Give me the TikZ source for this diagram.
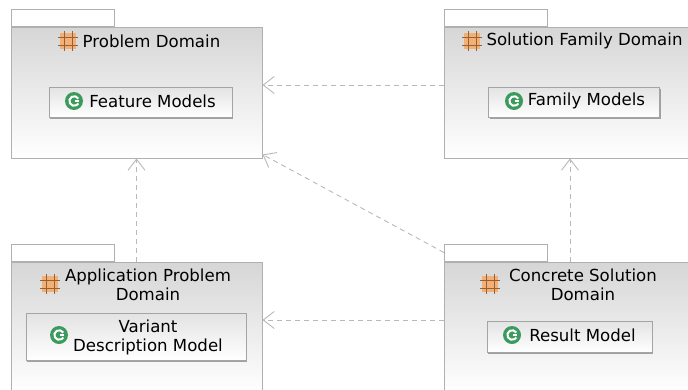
\documentclass[tikz,border=0pt]{standalone}
\usepackage{fontspec}
\setmainfont{DejaVu Sans}
\usetikzlibrary{arrows.meta,shadows}
\definecolor{pkgline}{HTML}{B0B0B0}
\definecolor{pkgtop}{HTML}{D6D6D6}
\definecolor{classline}{HTML}{A4A4A4}
\definecolor{depline}{HTML}{B8B8B8}
\definecolor{iconorange}{HTML}{F0B078}
\definecolor{iconbrown}{HTML}{9A6030}
\definecolor{icongreen}{HTML}{3C9A5C}
\tikzset{package/.style={draw=pkgline,line width=1pt,top color=pkgtop,bottom color=white,minimum width=251pt,minimum height=131pt,inner sep=0pt}}
\tikzset{packagetab/.style={draw=pkgline,line width=0.9pt,fill=white,anchor=south west,minimum width=103pt,minimum height=17pt,inner sep=0pt}}
\tikzset{classbox/.style={draw=classline,line width=0.9pt,top color=black!11,bottom color=white,drop shadow={shadow xshift=1.4pt,shadow yshift=-1.8pt,fill=black!45,opacity=0.8},inner sep=0pt}}
\tikzset{title/.style={font=\fontsize{16.6}{19}\selectfont,align=center,inner sep=0pt,text=black}}
\tikzset{dep/.style={draw=depline,line width=0.9pt,dash pattern=on 5pt off 4pt,-{Straight Barb[length=11pt,width=17pt,line width=0.9pt]}}}
\tikzset{pkgicon/.pic={
  \fill [iconorange] (-8,-8) rectangle (8,8);
  \draw [iconbrown,line width=0.8pt] (-10,-4) -- (10,-4) (-10,4) -- (10,4) (-4,-10) -- (-4,10) (4,-10) -- (4,10);
}}
\tikzset{classicon/.pic={
  \fill [icongreen] (0,0) circle (9);
  \draw [white,line width=2pt] (4.3,-2.4) arc (-30:-330:4.8);
  \draw [white,line width=1.6pt] (0.5,0) -- (5.2,0);
}}
\begin{document}
\begin{tikzpicture}[x=1pt,y=-1pt]
      \useasboundingbox (0, 0) rectangle (688, 389);
      \clip (0, 0) rectangle (688, 389);
      \node [package] (problem) at (136.5, 92.5) {};
      \node [package] (solution) at (570, 92.5) {};
      \node [package] (application) at (136.5, 327.5) {};
      \node [package] (concrete) at (570, 327.5) {};
      \node [packagetab] (problemtab) at (problem.north west) {};
      \node [packagetab] (solutiontab) at (solution.north west) {};
      \node [packagetab] (applicationtab) at (application.north west) {};
      \node [packagetab] (concretetab) at (concrete.north west) {};
      \node [title] (problemtitle) at (151.5, 41) {Problem Domain};
      \node [title] (solutiontitle) at (584.5, 41) {Solution Family Domain};
      \node [title] (applicationtitle) at (148, 285) {Application Problem\\Domain};
      \node [title] (concretetitle) at (583, 285) {Concrete Solution\\Domain};
      \node [classbox,minimum width=183pt,minimum height=30pt] (feature) at (140.5, 102) {};
      \node [classbox,minimum width=171pt,minimum height=30pt] (family) at (574, 102) {};
      \node [classbox,minimum width=220pt,minimum height=47pt] (variant) at (136, 336.5) {};
      \node [classbox,minimum width=165pt,minimum height=31pt] (result) at (569.5, 336.5) {};
      \node [title] (featuretext) at (152.5, 101) {Feature Models};
      \node [title] (familytext) at (586.5, 101) {Family Models};
      \node [title] (varianttext) at (148, 337) {Variant\\Description Model};
      \node [title] (resulttext) at (582.5, 335) {Result Model};
      \pic at (68, 41) {pkgicon};
      \pic at (472, 41) {pkgicon};
      \pic at (50, 284) {pkgicon};
      \pic at (490, 284) {pkgicon};
      \pic at (74, 101) {classicon};
      \pic at (514, 101) {classicon};
      \pic at (59, 335) {classicon};
      \pic at (512, 335) {classicon};
      \draw [dep] ([yshift=7.5pt]solution.west) -- ([yshift=7.5pt]problem.east);
      \draw [dep] ([yshift=7.5pt]concrete.west) -- ([yshift=7.5pt]application.east);
      \draw [dep] (application.north) -- (problem.south);
      \draw [dep] (concrete.north) -- (solution.south);
      \draw [dep] (concretetab.west) -- ([yshift=4pt]problem.south east);
    \end{tikzpicture}
\end{document}
